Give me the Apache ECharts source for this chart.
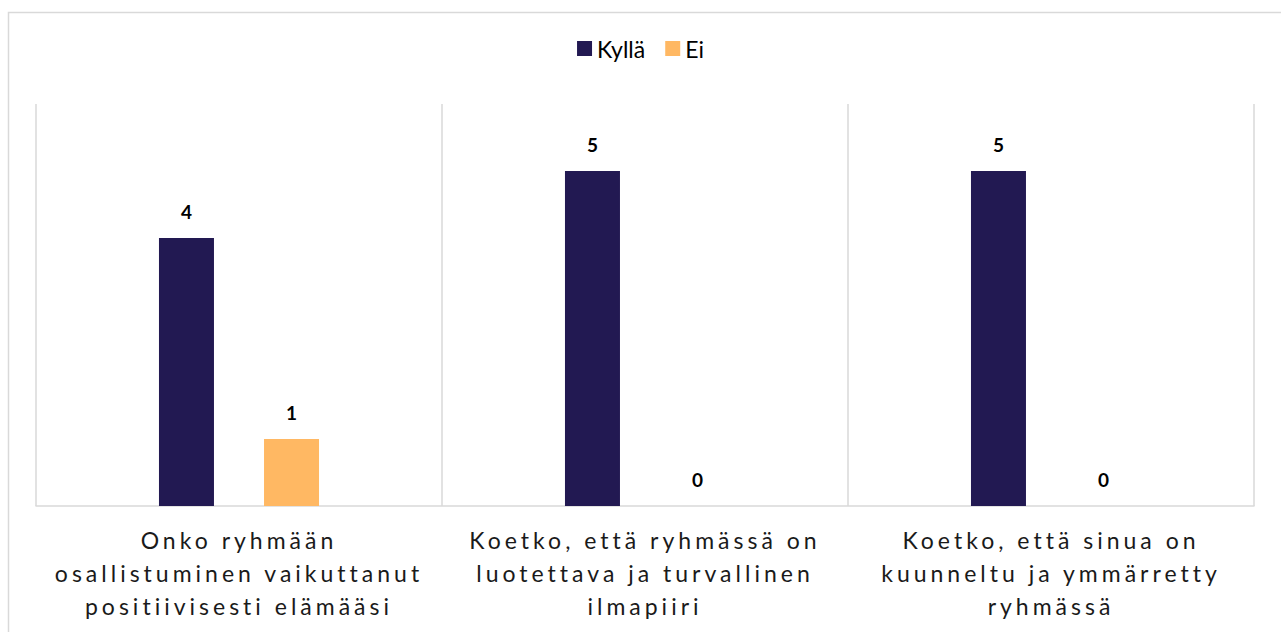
<!DOCTYPE html>
<html>
<head>
<meta charset="utf-8">
<script src="https://cdn.jsdelivr.net/npm/echarts@6/dist/echarts.min.js"></script>
<style>
  html, body { margin: 0; padding: 0; background: #fff; }
  #chart { width: 1281px; height: 632px; }
  /* category labels are letter-spaced in the original */
  #chart text[fill="#1a1a1a"] { letter-spacing: 4px; }
</style>
</head>
<body>
<div id="chart"></div>
<script>
var categories = [
    'Onko ryhmään\nosallistuminen vaikuttanut\npositiivisesti elämääsi',
    'Koetko, että ryhmässä on\nluotettava ja turvallinen\nilmapiiri',
    'Koetko, että sinua on\nkuunneltu ja ymmärretty\nryhmässä'
];
var kylla = [4, 5, 5];
var ei = [1, 0, 0];

var dom = document.getElementById('chart');
var myChart = echarts.init(dom, null, { renderer: 'svg' });

var labelStyle = {
    show: true,
    position: 'top',
    distance: 17,
    fontFamily: 'Lato',
    fontWeight: 'bold',
    fontSize: 19,
    color: '#000'
};

var option = {
    backgroundColor: '#fff',
    animation: false,
    graphic: [{
        type: 'rect',
        left: 6,
        top: 10,
        shape: { width: 1300, height: 700 },
        style: { fill: 'none', stroke: '#d9d9d9', lineWidth: 1.5 },
        silent: true
    }],
    legend: {
        top: 32,
        left: 'center',
        itemWidth: 15,
        itemHeight: 15,
        itemGap: 20,
        icon: 'rect',
        textStyle: { fontFamily: 'Lato', fontSize: 23, color: '#000' },
        data: ['Kyllä', 'Ei']
    },
    grid: {
        left: 36,
        right: 27,
        top: 104,
        bottom: 126
    },
    xAxis: {
        type: 'category',
        data: categories,
        axisLine: { lineStyle: { color: '#d9d9d9', width: 1.5 } },
        axisTick: { show: false },
        splitLine: { show: true, interval: 0, lineStyle: { color: '#d9d9d9', width: 1.5 } },
        axisLabel: {
            interval: 0,
            margin: 17,
            fontFamily: 'Lato',
            fontSize: 23,
            lineHeight: 33,
            color: '#1a1a1a'
        }
    },
    yAxis: {
        type: 'value',
        min: 0,
        max: 6,
        show: false,
        splitLine: { show: false }
    },
    series: [
        {
            name: 'Kyllä',
            type: 'bar',
            data: kylla,
            barWidth: 55,
            barGap: '91%',
            itemStyle: { color: '#221952' },
            label: labelStyle
        },
        {
            name: 'Ei',
            type: 'bar',
            data: ei,
            barWidth: 55,
            itemStyle: { color: '#ffb863' },
            label: labelStyle
        }
    ]
};

myChart.setOption(option);
</script>
</body>
</html>
